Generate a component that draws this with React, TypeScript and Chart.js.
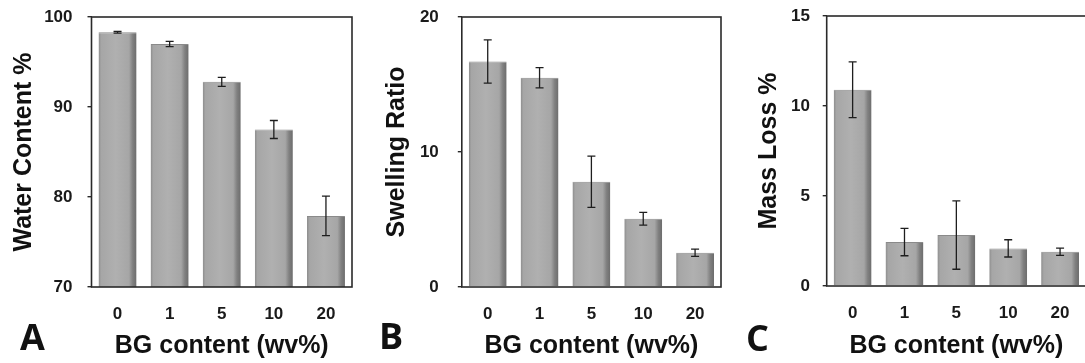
import { useEffect, useRef } from "react";
import { Chart, registerables } from "chart.js";

Chart.register(...registerables);

const categories = ["0", "1", "5", "10", "20"];
const xAxisTitle = "BG content (wv%)";

const waterContent = [98.3, 97.0, 92.8, 87.5, 77.9];
const waterContentErr = [0.1, 0.3, 0.5, 1.0, 2.2];
const waterTicks = [70, 80, 90, 100];

const swellingRatio = [16.7, 15.5, 7.8, 5.06, 2.54];
const swellingRatioErr = [1.6, 0.75, 1.9, 0.47, 0.27];
const swellingTicks = [0, 10, 20];

const massLoss = [10.9, 2.44, 2.83, 2.09, 1.9];
const massLossErr = [1.55, 0.76, 1.9, 0.48, 0.2];
const massTicks = [0, 5, 10, 15];

const FONT = "'Liberation Sans', Arial, sans-serif";
const CAT_PCT = 0.73;

type Panel = {
  key: string;
  letter: string;
  yTitle: string;
  values: number[];
  errors: number[];
  ticks: number[];
  canvasLeft: number;
  canvasWidth: number;
  yWidth: number;
  padTop: number;
  padRight: number;
  xHeight: number;
  yTitlePad: number;
  yTickPad: number;
  letterLeft: number;
  letterTop: number;
};

const panels: Panel[] = [
  {
    key: "A", letter: "A", yTitle: "Water Content %", values: waterContent, errors: waterContentErr, ticks: waterTicks,
    canvasLeft: 0, canvasWidth: 360, yWidth: 91.5, padTop: 17, padRight: 8, xHeight: 76, yTitlePad: 9, yTickPad: 15,
    letterLeft: 20, letterTop: 318.5,
  },
  {
    key: "B", letter: "B", yTitle: "Swelling Ratio", values: swellingRatio, errors: swellingRatioErr, ticks: swellingTicks,
    canvasLeft: 370, canvasWidth: 360, yWidth: 91.8, padTop: 17, padRight: 9, xHeight: 76, yTitlePad: 12.5, yTickPad: 19,
    letterLeft: 379, letterTop: 317.5,
  },
  {
    key: "C", letter: "C", yTitle: "Mass Loss %", values: massLoss, errors: massLossErr, ticks: massTicks,
    canvasLeft: 725, canvasWidth: 370, yWidth: 101.7, padTop: 16, padRight: 9, xHeight: 77, yTitlePad: 29, yTickPad: 12.7,
    letterLeft: 746, letterTop: 319.5,
  },
];

const framePlugin = {
  id: "frameBox",
  afterDraw(chart: any) {
    const { ctx, chartArea } = chart;
    ctx.save();
    ctx.strokeStyle = "#2a2a2a";
    ctx.lineWidth = 1.6;
    ctx.strokeRect(chartArea.left, chartArea.top, chartArea.right - chartArea.left, chartArea.bottom - chartArea.top);
    ctx.restore();
  },
};

const errorBarPlugin = {
  id: "errorBars",
  afterDatasetsDraw(chart: any, _args: any, opts: any) {
    const errs: number[] = opts.errors || [];
    const meta = chart.getDatasetMeta(0);
    const yScale = chart.scales.y;
    const vals = chart.data.datasets[0].data as number[];
    const { ctx } = chart;
    ctx.save();
    ctx.strokeStyle = "#1e1e1e";
    ctx.lineWidth = 1.3;
    meta.data.forEach((bar: any, i: number) => {
      const e = errs[i];
      if (e == null) return;
      const x = bar.x;
      const yTop = yScale.getPixelForValue(vals[i] + e);
      const yBot = yScale.getPixelForValue(vals[i] - e);
      const cap = 4;
      ctx.beginPath();
      ctx.moveTo(x, yTop);
      ctx.lineTo(x, yBot);
      ctx.moveTo(x - cap, yTop);
      ctx.lineTo(x + cap, yTop);
      ctx.moveTo(x - cap, yBot);
      ctx.lineTo(x + cap, yBot);
      ctx.stroke();
    });
    ctx.restore();
  },
};

function barFill(context: any) {
  const chart = context.chart;
  const xs = chart.scales.x;
  if (!xs || !chart.chartArea) return "#aaaaaa";
  const center = xs.getPixelForValue(context.dataIndex);
  const catW = (chart.chartArea.right - chart.chartArea.left) / categories.length;
  const w = catW * CAT_PCT;
  const left = center - w / 2;
  const g = chart.ctx.createLinearGradient(left, 0, left + w, 0);
  g.addColorStop(0, "#8c8c8c");
  g.addColorStop(0.07, "#a6a6a6");
  g.addColorStop(0.45, "#b0b0b0");
  g.addColorStop(0.8, "#a6a6a6");
  g.addColorStop(0.9, "#808080");
  g.addColorStop(1, "#6c6c6c");
  return g;
}

function PanelChart({ p }: { p: Panel }) {
  const ref = useRef<HTMLCanvasElement | null>(null);
  useEffect(() => {
    if (!ref.current) return;
    const chart = new Chart(ref.current, {
      type: "bar",
      data: {
        labels: categories,
        datasets: [
          {
            data: p.values,
            backgroundColor: barFill as any,
            borderColor: "#8a8a8a",
            borderWidth: { top: 1, left: 0, right: 0, bottom: 0 } as any,
            borderSkipped: false as any,
            categoryPercentage: CAT_PCT,
            barPercentage: 1,
          },
        ],
      },
      options: {
        animation: false,
        responsive: false,
        maintainAspectRatio: false,
        devicePixelRatio: 1,
        events: [],
        layout: { padding: { left: 0, right: p.padRight, top: p.padTop, bottom: 0 } },
        plugins: {
          legend: { display: false },
          tooltip: { enabled: false },
          errorBars: { errors: p.errors },
        } as any,
        scales: {
          x: {
            grid: { display: false },
            border: { display: false },
            ticks: { color: "#1a1a1a", font: { family: FONT, size: 17, weight: "bold" }, padding: 9 },
            title: {
              display: true,
              text: xAxisTitle,
              color: "#111",
              font: { family: FONT, size: 25, weight: "bold" },
              padding: { top: 0, bottom: 2 },
            },
            afterFit: (s: any) => {
              s.height = p.xHeight;
              s.paddingLeft = 0;
              s.paddingRight = 0;
            },
          },
          y: {
            min: p.ticks[0],
            max: p.ticks[p.ticks.length - 1],
            grid: { display: true, drawOnChartArea: false, drawTicks: true, tickLength: 4, color: "#2a2a2a", lineWidth: 1.4 },
            border: { display: false },
            ticks: {
              stepSize: p.ticks[1] - p.ticks[0],
              color: "#1a1a1a",
              font: { family: FONT, size: 17, weight: "bold" },
              padding: p.yTickPad,
            },
            title: {
              display: true,
              text: p.yTitle,
              color: "#111",
              font: { family: FONT, size: 25, weight: "bold" },
              padding: { top: p.yTitlePad, bottom: 0 },
            },
            afterFit: (s: any) => {
              s.width = p.yWidth;
              s.paddingTop = 0;
              s.paddingBottom = 0;
            },
          },
        },
      },
      plugins: [framePlugin, errorBarPlugin],
    });
    return () => chart.destroy();
  }, [p]);
  return (
    <div style={{ position: "absolute", left: p.canvasLeft, top: 0, width: p.canvasWidth, height: 363 }}>
      <canvas ref={ref} width={p.canvasWidth} height={363} style={{ width: p.canvasWidth, height: 363, display: "block" }} />
    </div>
  );
}

export default function App() {
  return (
    <div style={{ position: "fixed", left: 0, top: 0, width: 1085, height: 363, overflow: "hidden", background: "#fff" }}>
      {panels.map((p) => (
        <PanelChart key={p.key} p={p} />
      ))}
      {panels.map((p) => (
        <div
          key={"l" + p.key}
          style={{
            position: "absolute",
            left: p.letterLeft,
            top: p.letterTop,
            fontFamily: "'Open Sans', sans-serif",
            fontWeight: 700,
            fontSize: 36,
            lineHeight: "36px",
            color: "#111",
          }}
        >
          {p.letter}
        </div>
      ))}
    </div>
  );
}
